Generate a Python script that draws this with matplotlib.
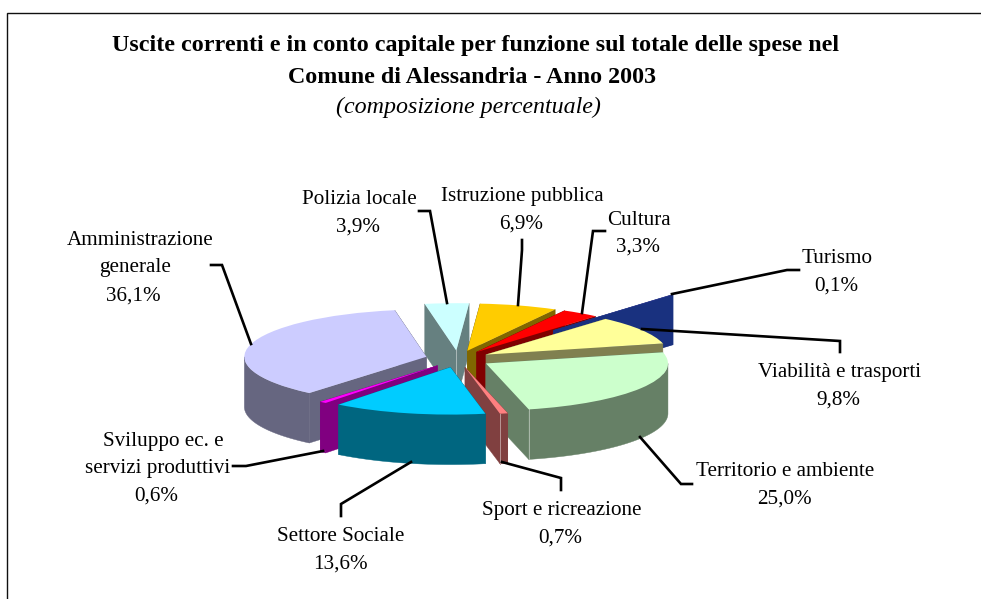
import numpy as np
import matplotlib
matplotlib.use("Agg")
import matplotlib.pyplot as plt
from matplotlib.patches import Polygon
from matplotlib.transforms import Bbox
from matplotlib.colors import to_rgb

plt.rcParams['font.family'] = ['Liberation Serif', 'DejaVu Serif']

categories = ["Polizia locale", "Istruzione pubblica", "Cultura", "Turismo",
              "Viabilità e trasporti", "Territorio e ambiente", "Sport e ricreazione",
              "Settore Sociale", "Sviluppo ec. e", "servizi produttivi", "Amministrazione", "generale"]
values = [3.9, 6.9, 3.3, 0.1, 9.8, 25.0, 0.7, 13.6, 0.6, 36.1]
value_labels = ["3,9%", "6,9%", "3,3%", "0,1%", "9,8%", "25,0%", "0,7%", "13,6%", "0,6%", "36,1%"]

explode = [0.18, 0.18, 0.18, 0.80, 0.18, 0.18, 0.18, 0.18, 0.18, 0.18]
top_colors = ["#CCFFFF", "#FFCC00", "#FF0000", "#333399", "#FFFF99",
              "#CCFFCC", "#FF8080", "#00CCFF", "#FF00FF", "#CCCCFF"]
side_colors = ["#668080", "#806600", "#800000", "#19317F", "#808050",
               "#668066", "#804040", "#006680", "#800080", "#666680"]
draw_order = [0, 1, 2, 3, 4, 9, 5, 6, 8, 7]

W, H = 981, 599
RX, RY, DEPTH = 182.0, 47.3, 50.0
CX, CY = 458.0, 359.0

fig = plt.figure(figsize=(W / 100, H / 100), dpi=100, facecolor="white")
ax = fig.add_axes([0, 0, 1, 1])
wedges, _ = ax.pie(values, explode=explode, colors=top_colors, startangle=100,
                   counterclock=False, wedgeprops=dict(linewidth=0))
ax.set_aspect("auto")
ax.set_xlim(-CX / RX, (W - CX) / RX)
ax.set_ylim(-(H - CY) / RY, CY / RY)
ax.axis("off")
d = DEPTH / RY


def arc(w, a1, a2):
    t = np.radians(np.linspace(a1, a2, 80))
    return w.center[0] + w.r * np.cos(t), w.center[1] + w.r * np.sin(t)


def lighter(c, f=0.45):
    r = np.array(to_rgb(c))
    return tuple(r + (1 - r) * f)


for rank, i in enumerate(draw_order):
    w = wedges[i]
    w.set_zorder(3 * rank + 3)
    cx, cy = w.center
    for a in (w.theta1, w.theta2):
        x, y = arc(w, a, a)
        xy = [(cx, cy), (x[0], y[0]), (x[0], y[0] - d), (cx, cy - d)]
        ax.add_patch(Polygon(xy, closed=True, fc=side_colors[i], ec=side_colors[i],
                             lw=0.3, zorder=3 * rank + 1))
    # only the part of the outer wall that faces the viewer
    t1, t2 = w.theta1 % 360, w.theta2 % 360
    if t2 < t1:
        t2 += 360
    for lo, hi in ((180, 360), (540, 720)):
        a1, a2 = max(t1, lo), min(t2, hi)
        if a2 > a1:
            x, y = arc(w, a1, a2)
            xy = np.r_[np.c_[x, y], np.c_[x[::-1], y[::-1] - d]]
            ax.add_patch(Polygon(xy, closed=True, fc=side_colors[i], ec=side_colors[i],
                                 lw=0.3, zorder=3 * rank + 2))
    # pale seam where two side faces meet
    if i in (5, 6):
        x, y = arc(w, w.theta1, w.theta1)
        ax.plot([x[0], x[0]], [y[0], y[0] - d], color=lighter(side_colors[i]), lw=0.7,
                zorder=3 * rank + 2.5)
    if i == 0:
        ax.plot([cx, cx], [cy, cy - d], color=lighter(side_colors[i]), lw=0.7,
                zorder=3 * rank + 2.5)

# overlay in pixel coordinates for frame, titles, labels and leader lines
ov = fig.add_axes([0, 0, 1, 1], facecolor="none")
ov.set_xlim(0, W)
ov.set_ylim(H, 0)
ov.axis("off")

ov.plot([981, 6.5, 6.5], [12.5, 12.5, 599], color="#101010", lw=1.0, solid_joinstyle="miter")

ov.text(476, 51.5, "Uscite correnti e in conto capitale per funzione sul totale delle spese nel",
        ha="center", va="baseline", fontsize=17.3, fontweight="bold")
ov.text(472, 83, "Comune di Alessandria - Anno 2003", ha="center", va="baseline",
        fontsize=17.3, fontweight="bold")
ov.text(468, 113.5, "(composizione percentuale)", ha="center", va="baseline",
        fontsize=17.3, style="italic")

# text lines: string, centre x, baseline y
name_pos = [(359, 204), (522, 201), (639, 225), (837.5, 263), (840, 377), (785, 476),
            (562, 515), (341, 541), (163, 446), (157.5, 473), (140, 245), (135, 272)]
value_pos = [(358, 232), (521, 229), (638, 252), (836, 291), (838, 405), (784, 504),
             (560, 543), (340, 569), (156.5, 501), (133, 301)]
LABEL_SIZE = 15.2
for s, (x, y) in zip(categories, name_pos):
    t = ov.text(x, y, s, ha="center", va="baseline", fontsize=LABEL_SIZE)
    if s == "Amministrazione":
        t.set_clip_box(Bbox.from_extents(0, 0, 212.5, H))
        t.set_clip_on(True)
for s, (x, y) in zip(value_labels, value_pos):
    ov.text(x, y, s, ha="center", va="baseline", fontsize=LABEL_SIZE)

leaders = [
    ([419, 430, 447], [211, 211, 303]),
    ([522, 522, 518], [240, 250, 305]),
    ([605, 593, 582], [231, 231, 313]),
    ([799, 787, 672], [270, 270, 294]),
    ([840, 840, 642], [352, 341, 329]),
    ([692, 681, 640], [484, 484, 437]),
    ([561, 561, 502], [490, 478, 462]),
    ([341, 341, 411], [516, 504, 462]),
    ([233, 246, 323], [466, 466, 451]),
    ([211, 222, 251], [265, 265, 344]),
]
for xs, ys in leaders:
    ov.plot(xs, ys, color="black", lw=1.9, solid_joinstyle="miter", zorder=5)

fig.savefig("out.png", dpi=100)
